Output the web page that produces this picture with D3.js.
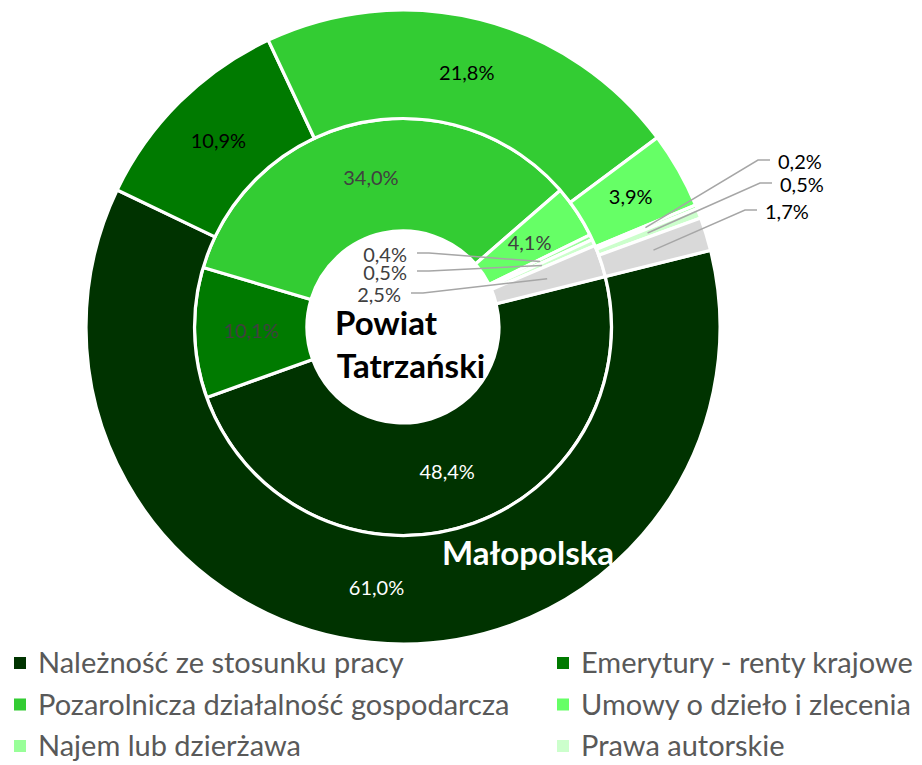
<!DOCTYPE html>
<html>
<head>
<meta charset="utf-8">
<script src="https://cdn.jsdelivr.net/npm/d3@7"></script>
<style>
  body { margin: 0; background: #fff; }
  text { font-family: Lato, "Open Sans", sans-serif; }
</style>
</head>
<body>
<svg id="chart" width="922" height="765"></svg>
<script>
// Source categories (the last, grey one has no legend entry).
const categories = [
  'Należność ze stosunku pracy',
  'Emerytury - renty krajowe',
  'Pozarolnicza działalność gospodarcza',
  'Umowy o dzieło i zlecenia',
  'Najem lub dzierżawa',
  'Prawa autorskie',
  'Pozostałe'
];
const seriesNames = ['Małopolska', 'Powiat Tatrzański'];
const malopolska = [61.0, 10.9, 21.8, 3.9, 0.2, 0.5, 1.7];
const powiat = [48.4, 10.1, 34.0, 4.1, 0.4, 0.5, 2.5];
const palette = ['#003300', '#007a00', '#33cc33', '#66ff66', '#99ff99', '#ccffcc', '#d9d9d9'];

const width = 922, height = 765;
const cx = 403, cy = 327;
const startAngle = 76 * Math.PI / 180;

var svg = d3.select('#chart');
var color = d3.scaleOrdinal().domain(categories).range(palette);
var fmt = function(v) { return d3.format('.1f')(v).replace('.', ',') + '%'; };

var pie = d3.pie()
    .sort(null)
    .value(function(d) { return d.value; })
    .startAngle(startAngle)
    .endAngle(startAngle + 2 * Math.PI);

function rows(values) {
  return values.map(function(v, i) { return {cat: categories[i], value: v, i: i}; });
}

// ring geometry
var rings = [
  {name: 'inner', data: pie(rows(powiat)), r0: 96, r1: 208.5, labelR: 152,
   text: '#404040', darkText: '#ffffff'},
  {name: 'outer', data: pie(rows(malopolska)), r0: 208.5, r1: 317, labelR: 262,
   text: '#000000', darkText: '#ffffff'}
];

// positions of the callout labels for the thin slices, relative to centre
var callouts = {
  inner: {4: [4, -72], 5: [4, -54], 6: [-2, -32]},
  outer: {4: [375, -165], 5: [377, -142], 6: [362, -115]}
};

var g = svg.append('g').attr('transform', 'translate(' + cx + ',' + cy + ')');

rings.forEach(function(ring) {
  var arc = d3.arc().innerRadius(ring.r0).outerRadius(ring.r1);
  g.append('g').attr('class', 'ring-' + ring.name)
    .selectAll('path')
    .data(ring.data)
    .enter().append('path')
      .attr('d', arc)
      .style('fill', function(d) { return color(d.data.cat); })
      .style('stroke', '#fff')
      .style('stroke-width', 3.2);
});

rings.forEach(function(ring) {
  var labelArc = d3.arc().innerRadius(ring.labelR).outerRadius(ring.labelR);
  var lg = g.append('g').attr('class', 'labels-' + ring.name);
  ring.data.forEach(function(d) {
    var c = labelArc.centroid(d);
    var pos = callouts[ring.name][d.data.i];
    if (pos) {
      var outer = ring.name === 'outer';
      var tx = pos[0], ty = pos[1];
      var lx = outer ? tx - 8 : tx + 10;
      var ex = outer ? lx - 12 : lx + 12;
      lg.append('polyline')
          .attr('points', [[lx, ty - 2], [ex, ty - 2], c].map(function(p) { return p.join(','); }).join(' '))
          .style('fill', 'none')
          .style('stroke', '#a6a6a6')
          .style('stroke-width', 1.5);
      lg.append('text')
          .attr('x', tx)
          .attr('y', ty)
          .attr('dy', '0.35em')
          .attr('text-anchor', outer ? 'start' : 'end')
          .style('font-size', '20px')
          .style('fill', ring.text)
          .text(fmt(d.data.value));
    } else {
      lg.append('text')
          .attr('x', c[0])
          .attr('y', c[1])
          .attr('dy', '0.35em')
          .attr('text-anchor', 'middle')
          .style('font-size', '20px')
          .style('fill', d.data.i === 0 ? ring.darkText : ring.text)
          .text(fmt(d.data.value));
    }
  });
});

// series names
var pw = seriesNames[1].split(' ');
g.append('text')
    .attr('x', -17).attr('y', 8)
    .attr('text-anchor', 'middle')
    .style('font-size', '33px').style('font-weight', 'bold').style('fill', '#000')
    .text(pw[0]);
g.append('text')
    .attr('x', 8).attr('y', 51)
    .attr('text-anchor', 'middle')
    .style('font-size', '33px').style('font-weight', 'bold').style('fill', '#000')
    .text(pw[1]);
g.append('text')
    .attr('x', 125).attr('y', 238)
    .attr('text-anchor', 'middle')
    .style('font-size', '33px').style('font-weight', 'bold').style('fill', '#fff')
    .text(seriesNames[0]);

// legend, two columns
var legendCats = categories.slice(0, 6);
var legend = svg.append('g').attr('class', 'legend')
  .selectAll('g')
  .data(legendCats)
  .enter().append('g')
    .attr('transform', function(d, i) {
      return 'translate(' + (i % 2 ? 557 : 14) + ',' + (663 + Math.floor(i / 2) * 41.5) + ')';
    });
legend.append('rect')
    .attr('x', 0).attr('y', -6)
    .attr('width', 12).attr('height', 12)
    .style('fill', function(d) { return color(d); });
legend.append('text')
    .attr('x', 24).attr('y', 0)
    .attr('dy', '0.35em')
    .style('font-size', '29px')
    .style('fill', '#595959')
    .text(function(d) { return d; });
</script>
</body>
</html>
